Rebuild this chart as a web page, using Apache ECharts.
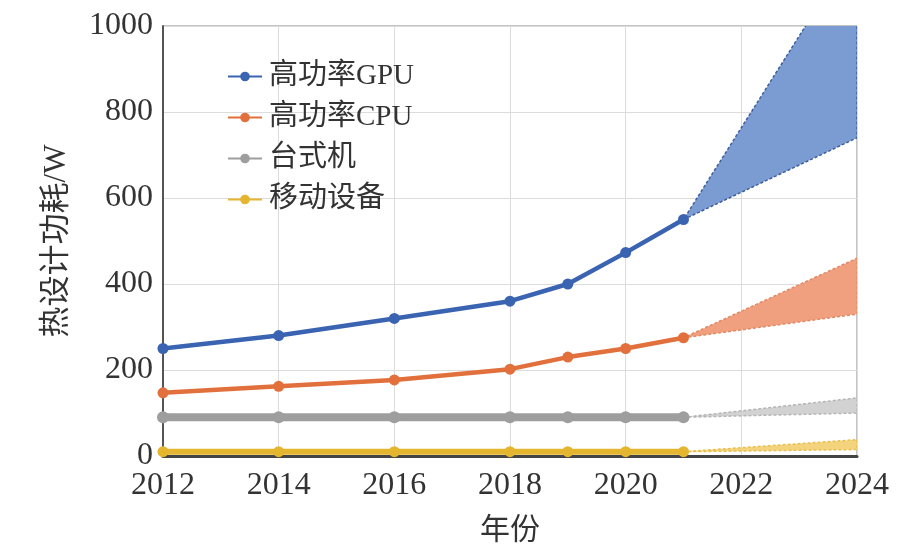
<!DOCTYPE html>
<html><head><meta charset="utf-8">
<script src="https://cdn.jsdelivr.net/npm/echarts@6/dist/echarts.min.js"></script>
<style>html,body{margin:0;padding:0;background:#fff}#c{width:919px;height:557px}</style>
</head><body><div id="c"></div>
<script>
// ---- data ----
const years = [2012, 2014, 2016, 2018, 2019, 2020, 2021];
const gpu = [250, 280, 320, 360, 400, 473, 550];
const cpu = [147, 162, 177, 202, 230, 250, 275];
const desktop = [90, 90, 90, 90, 90, 90, 90];
const mobile = [10, 10, 10, 10, 10, 10, 10];
const projYears = [2021, 2024];
const gpuLow = [550, 740], gpuHigh = [550, 1190];
const cpuLow = [275, 330], cpuHigh = [275, 460];
const deskLow = [90, 100], deskHigh = [90, 135];
const mobLow = [10, 15], mobHigh = [10, 38];
const xTicks = [2012, 2014, 2016, 2018, 2020, 2022, 2024];
const names = ['高功率GPU', '高功率CPU', '台式机', '移动设备'];

const FONT = "'Liberation Serif','Noto Sans CJK SC',serif";
const pairs = (xs, ys) => xs.map((x, i) => [x, ys[i]]);

function mainSeries(name, ys, color, width, sym) {
  return {
    name, type: 'line', data: pairs(years, ys), z: 5,
    symbol: 'circle', symbolSize: sym,
    lineStyle: { color, width }, itemStyle: { color }
  };
}
function band(low, high, fill, edge) {
  return {
    type: 'custom', z: 3, silent: true,
    data: [[projYears[0], low[0], high[0], projYears[1], low[1], high[1]]],
    encode: { x: [0, 3], y: [1, 2, 4, 5] },
    renderItem: function (params, api) {
      const pts = [
        api.coord([api.value(0), api.value(1)]),
        api.coord([api.value(3), api.value(4)]),
        api.coord([api.value(3), api.value(5)]),
        api.coord([api.value(0), api.value(2)])
      ];
      const cs = params.coordSys;
      return {
        type: 'polygon',
        shape: { points: pts },
        style: { fill: fill, stroke: edge, lineWidth: 1.5, lineDash: [3, 2] },
        clipPath: { type: 'rect', shape: { x: cs.x, y: cs.y, width: cs.width, height: cs.height } }
      };
    }
  };
}

const chart = echarts.init(document.getElementById('c'));
chart.setOption({
  animation: false,
  grid: { left: 163, right: 62, top: 26, bottom: 101, show: true, borderColor: '#888', borderWidth: 1 },
  legend: {
    data: names, orient: 'vertical', left: 222, top: 57, itemGap: 12,
    itemWidth: 34, itemHeight: 12,
    textStyle: { fontFamily: FONT, fontSize: 29, color: '#333', padding: [0, 0, 0, 2] }
  },
  xAxis: {
    type: 'value', min: 2012, max: 2024, interval: 2,
    name: '年份', nameLocation: 'middle', nameGap: 60,
    nameTextStyle: { fontFamily: FONT, fontSize: 30, color: '#333' },
    axisLine: { show: true, lineStyle: { color: '#444', width: 3 } },
    axisTick: { show: false },
    axisLabel: { fontFamily: FONT, fontSize: 32, color: '#333', margin: 14,
      formatter: v => xTicks.includes(v) ? String(v) : '' },
    splitLine: { show: true, lineStyle: { color: '#dcdcdc', width: 1 } }
  },
  yAxis: {
    type: 'value', min: 0, max: 1000, interval: 200,
    name: '热设计功耗/W', nameLocation: 'middle', nameGap: 91, nameRotate: 90,
    nameTextStyle: { fontFamily: FONT, fontSize: 31, color: '#333' },
    axisLine: { show: true, lineStyle: { color: '#555', width: 2 } },
    axisTick: { show: false },
    axisLabel: { fontFamily: FONT, fontSize: 32, color: '#333', margin: 10, formatter: v => String(v) },
    splitLine: { show: true, lineStyle: { color: '#dcdcdc', width: 1 } }
  },
  series: [
    band(gpuLow, gpuHigh, '#7b9bd3', '#3f5f99'),
    band(cpuLow, cpuHigh, '#f0a07f', '#e08a66'),
    band(deskLow, deskHigh, '#d2d2d2', '#b5b5b5'),
    band(mobLow, mobHigh, '#f3d37c', '#e8bf50'),
    mainSeries(names[0], gpu, '#3a64b2', 4.5, 11),
    mainSeries(names[1], cpu, '#e2703d', 4.5, 11),
    mainSeries(names[2], desktop, '#9e9e9e', 8, 12),
    mainSeries(names[3], mobile, '#e4b52f', 6, 11)
  ]
});
</script></body></html>
